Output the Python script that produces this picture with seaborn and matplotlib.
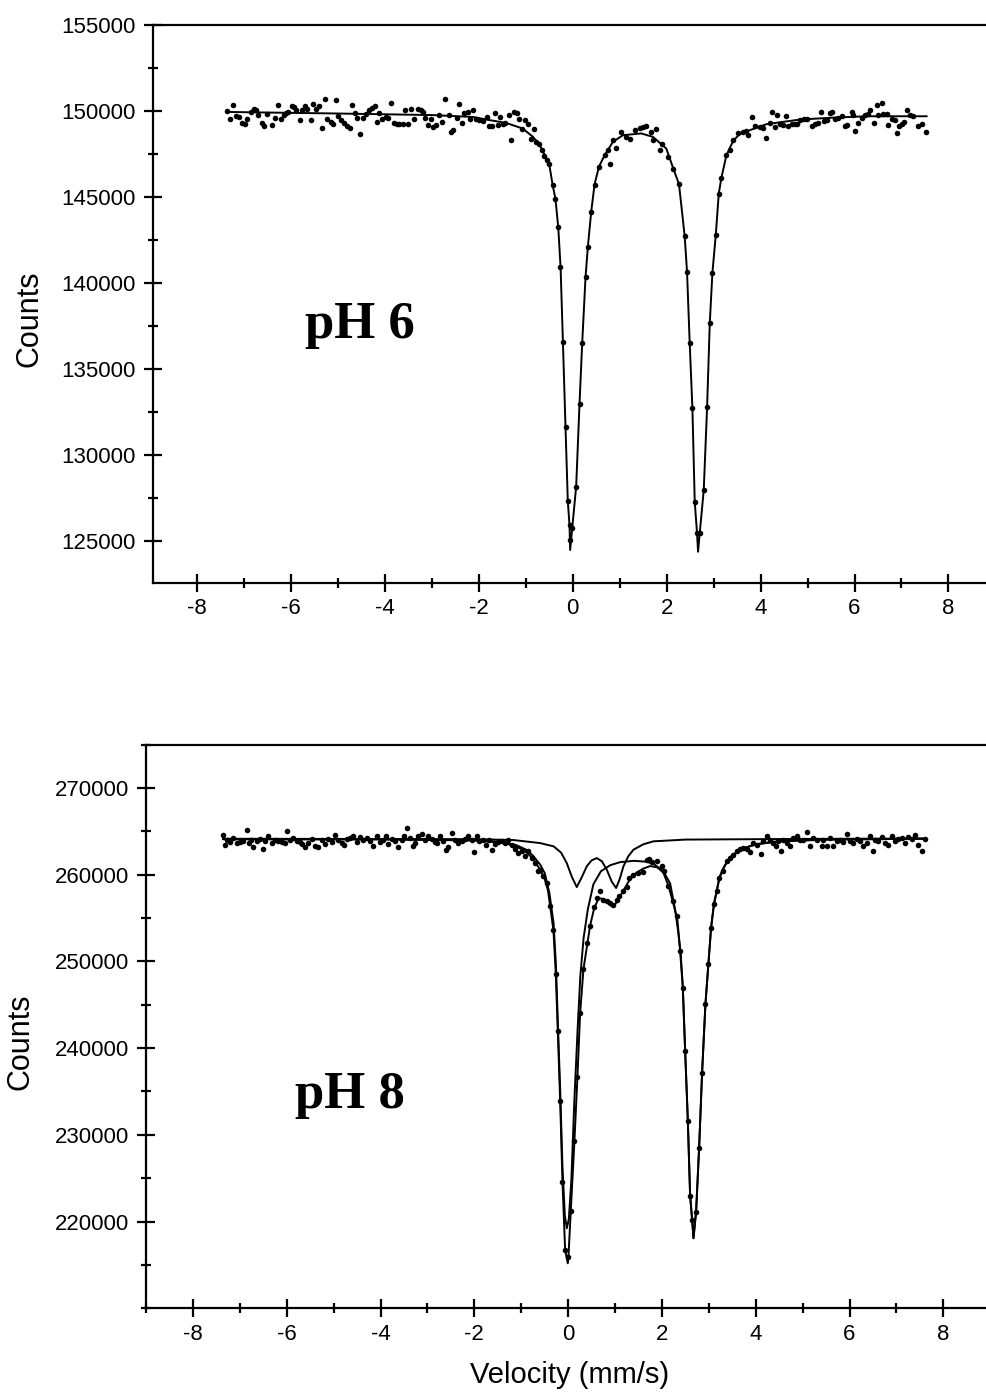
import matplotlib
matplotlib.use("Agg")
import matplotlib.pyplot as plt
from matplotlib.ticker import FixedLocator, MultipleLocator
import seaborn as sns

# ---- pH 6 : measured points (velocity mm/s, counts) ----
ph6_velocity = [
    -7.360, -7.303, -7.232, -7.182, -7.111, -7.040, -6.983, -6.933, -6.862, -6.791,
    -6.755, -6.698, -6.627, -6.577, -6.506, -6.414, -6.343, -6.286, -6.222, -6.151,
    -6.115, -6.058, -5.987, -5.937, -5.902, -5.816, -5.760, -5.703, -5.653, -5.582,
    -5.532, -5.475, -5.404, -5.347, -5.283, -5.226, -5.155, -5.098, -5.048, -4.992,
    -4.942, -4.871, -4.800, -4.750, -4.693, -4.636, -4.586, -4.529, -4.465, -4.409,
    -4.337, -4.266, -4.209, -4.167, -4.124, -4.053, -3.982, -3.925, -3.868, -3.804,
    -3.754, -3.697, -3.626, -3.569, -3.505, -3.448, -3.377, -3.306, -3.235, -3.199,
    -3.143, -3.086, -3.022, -2.972, -2.915, -2.844, -2.787, -2.716, -2.645, -2.595,
    -2.545, -2.474, -2.417, -2.360, -2.311, -2.240, -2.190, -2.119, -2.062, -1.991,
    -1.920, -1.834, -1.777, -1.720, -1.649, -1.600, -1.550, -1.493, -1.436, -1.365,
    -1.315, -1.244, -1.194, -1.137, -1.080, -1.009, -0.960, -0.888, -0.831, -0.782,
    -0.711, -0.661, -0.604, -0.554, -0.497,
    -0.426, -0.369, -0.312, -0.262, -0.212, -0.155, -0.106, -0.070, -0.049, -0.013,
    0.072, 0.143, 0.200, 0.271, 0.321, 0.392, 0.463, 0.556, 0.677, 0.748,
    0.783, 0.854, 0.911, 1.032, 1.139, 1.210, 1.317, 1.423, 1.494, 1.566,
    1.672, 1.708, 1.779, 1.850, 1.907, 2.028, 2.134, 2.262, 2.383, 2.433,
    2.490, 2.547, 2.597, 2.646, 2.703, 2.789, 2.860, 2.917, 2.973, 3.045,
    3.109, 3.166, 3.272, 3.343, 3.414, 3.521, 3.628, 3.699,
    3.734, 3.827, 3.876, 3.983, 4.054, 4.125, 4.196, 4.253, 4.303, 4.353,
    4.410, 4.481, 4.538, 4.587, 4.659, 4.730, 4.765, 4.836, 4.922, 4.979,
    5.085, 5.156, 5.227, 5.277, 5.348, 5.405, 5.476, 5.512, 5.583, 5.654,
    5.725, 5.796, 5.832, 5.938, 5.974, 6.010, 6.081, 6.152, 6.223, 6.294,
    6.330, 6.415, 6.472, 6.507, 6.579, 6.614, 6.685, 6.721, 6.792, 6.863,
    6.899, 6.955, 7.005, 7.055, 7.112, 7.183, 7.254, 7.361, 7.432, 7.524,
]
ph6_counts = [
    149982, 149556, 150370, 149692, 149653, 149304, 149227, 149556, 149944, 150138,
    150041, 149750, 149304, 149110, 149808, 149169, 149614, 150331, 149556, 149750,
    149886, 149944, 150273, 150234, 150041, 149498, 150041, 150273, 150138, 149459,
    150428, 150138, 150273, 149033, 150680, 149556, 149362, 149227, 150622, 149692,
    149498, 149304, 149110, 149033, 150370, 149886, 149614, 148684, 149614, 149847,
    150080, 150196, 150273, 149362, 149886, 149556, 149653, 149614, 150467, 149304,
    149265, 149227, 149265, 150080, 149227, 150138, 149556, 150138, 150041, 149944,
    149614, 149169, 149556, 149072, 149169, 149750, 149362, 150719, 149750, 148781,
    148878, 149614, 150389, 149304, 149886, 149944, 149556, 150080, 149556, 149498,
    149420, 149653, 149110, 149110, 149886, 149169, 149653, 149265, 149304, 149750,
    148335, 149944, 149886, 149556, 148975, 149459, 149227, 148393, 148975, 148199,
    148064, 147754, 147366, 147172, 146901,
    145681, 144906, 143258, 140933, 136572, 131591, 127328, 125913, 125041, 125719,
    128142, 132948, 136475, 140312, 142095, 144130, 145720, 146747, 147425, 147754,
    146940, 148336, 147871, 148781, 148491, 148394, 148917, 149033, 149072, 149111,
    148781, 148297, 148975, 147754, 148064, 147328, 146650, 145739, 142716, 140642,
    136475, 132735, 127269, 125429, 125429, 127948, 132754, 137638, 140584, 142774,
    145196, 146126, 147425, 147716, 148297, 148723, 148781, 148840,
    148587, 149653, 149110, 149072, 149033, 148451, 149304, 149944, 149072, 149750,
    149227, 149169, 149692, 149110, 149265, 149227, 149265, 149498, 149537, 149556,
    149110, 149227, 149304, 149944, 149420, 149459, 149886, 149944, 149556, 149614,
    149692, 149110, 149169, 149944, 149750, 148839, 149304, 149614, 149750, 149847,
    150041, 149304, 150331, 149750, 150467, 149847, 149808, 149169, 149556, 149459,
    148723, 149110, 149227, 149362, 150080, 149750, 149692, 149110, 149227, 148781,
]

# pH 6 fitted curve
ph6_fit_velocity = [
    -7.36, -5.0, -3.0, -2.13, -1.78, -1.42, -1.07, -0.85, -0.71, -0.6,
    -0.5, -0.43, -0.37, -0.31, -0.26, -0.21, -0.155, -0.106, -0.07, -0.056,
    -0.013, 0.072, 0.143, 0.2, 0.271, 0.321, 0.392, 0.463, 0.556, 0.677,
    0.854, 1.068, 1.459, 1.708, 1.992, 2.134, 2.262, 2.383, 2.433, 2.49,
    2.547, 2.597, 2.646, 2.668, 2.703, 2.789, 2.86, 2.917, 2.973, 3.045,
    3.109, 3.166, 3.272, 3.414, 3.55, 3.77, 4.125, 4.84, 5.55, 6.26, 7.54,
]
ph6_fit_counts = [
    149940, 149850, 149760, 149650, 149470, 149300, 148980, 148500, 148030, 147450,
    146880, 145700, 144900, 143250, 140900, 136550, 131600, 127300, 125900, 124460,
    125720, 128150, 132950, 136480, 140310, 142100, 144130, 145720, 146750, 147420,
    148200, 148590, 148690, 148490, 147810, 146700, 145740, 142720, 140640, 136480,
    132740, 127270, 125430, 124360, 125430, 127950, 132750, 137640, 140580, 142770,
    145200, 146130, 147420, 148250, 148650, 148880, 149230, 149500, 149610, 149690, 149690,
]

# ---- pH 8 : measured points ----
ph8_velocity = [
    -7.363, -7.313, -7.277, -7.206, -7.135, -7.050, -6.993, -6.922, -6.851, -6.815,
    -6.766, -6.709, -6.638, -6.567, -6.496, -6.460, -6.389, -6.318, -6.247, -6.176,
    -6.105, -6.034, -5.984, -5.927, -5.856, -5.785, -5.714, -5.678, -5.607, -5.536,
    -5.465, -5.394, -5.323, -5.252, -5.181, -5.110, -5.039, -4.968, -4.897, -4.826,
    -4.776, -4.719, -4.648, -4.577, -4.506, -4.435, -4.364, -4.293, -4.222, -4.150,
    -4.079, -4.008, -3.937, -3.880, -3.831, -3.760, -3.689, -3.617, -3.546, -3.496,
    -3.440, -3.369, -3.312, -3.262, -3.191, -3.120, -3.049, -2.978, -2.907, -2.836,
    -2.786, -2.729, -2.672, -2.601, -2.551, -2.480, -2.409, -2.338, -2.267, -2.196,
    -2.125, -2.054, -2.004, -1.947, -1.890, -1.819, -1.748, -1.677, -1.627, -1.556,
    -1.485, -1.414, -1.343, -1.272, -1.201, -1.130, -1.059, -0.988, -0.917, -0.846,
    -0.775, -0.703, -0.632,
    -0.598, -0.527, -0.455, -0.384, -0.313, -0.263,
    -0.220, -0.170, -0.121, -0.064, 0.007, 0.057, 0.135, 0.199, 0.256, 0.327,
    0.412, 0.468, 0.554, 0.611, 0.682, 0.753, 0.824, 0.895, 0.966, 1.037,
    1.094, 1.165, 1.250, 1.307, 1.392, 1.499, 1.606, 1.677, 1.734, 1.783,
    1.890, 1.997, 2.046, 2.139, 2.231, 2.330, 2.387, 2.458,
    2.495, 2.552, 2.601, 2.644, 2.729, 2.793, 2.857, 2.928, 2.992,
    3.048, 3.112, 3.169, 3.226, 3.311, 3.382, 3.453, 3.524,
    3.596, 3.667, 3.738, 3.809, 3.880, 3.951, 4.022, 4.108, 4.165, 4.236,
    4.307, 4.378, 4.435, 4.484, 4.534, 4.591, 4.662, 4.733, 4.804, 4.875,
    4.946, 5.017, 5.103, 5.160, 5.231, 5.302, 5.408, 5.444, 5.515, 5.586,
    5.643, 5.728, 5.799, 5.870, 5.941, 6.012, 6.083, 6.154, 6.226, 6.297,
    6.368, 6.439, 6.496, 6.545, 6.616, 6.688, 6.759, 6.830, 6.901, 6.972,
    7.043, 7.114, 7.185, 7.256, 7.327, 7.398, 7.469, 7.540, 7.611,
]
ph8_counts = [
    264615, 263461, 264038, 263730, 264230, 263653, 263730, 263845, 265115, 263653,
    264038, 263191, 263845, 264115, 262961, 263845, 264499, 263653, 264038, 263845,
    263730, 263653, 265000, 263961, 264230, 263845, 263730, 263576, 263191, 263653,
    264115, 263345, 263191, 263961, 263576, 264115, 263807, 264615, 264038, 263653,
    263461, 264115, 264230, 264422, 263807, 264345, 263961, 264230, 263845, 263345,
    264422, 263730, 263961, 264499, 263576, 264115, 263845, 263191, 264038, 264499,
    265384, 264230, 263268, 263653, 264422, 264730, 263961, 264499, 264115, 263807,
    263653, 264422, 263845, 262807, 263191, 264807, 264038, 263653, 263845, 264115,
    264499, 263961, 262576, 264422, 263845, 264038, 263461, 263961, 262807, 263576,
    263730, 263845, 263653, 263961, 263461, 262961, 262499, 262691, 262114, 262691,
    261922, 261345, 260383,
    260576, 259806, 259036, 256420, 253573, 248572,
    241919, 233955, 224607, 216721, 215952, 221261, 229339, 236726, 244035, 249113,
    252112, 254112, 256267, 257305, 258075, 257113, 256921, 256728, 256536, 257113,
    257497, 258075, 258575, 259614, 259998, 260191, 260268, 261700, 261800, 261500,
    261537, 260960, 260383, 258652, 256921, 255190, 251150, 246919,
    239611, 231609, 222953, 220183, 221145, 228454, 237187, 245074, 249728,
    253843, 256651, 258075, 259614, 260383, 261537, 261922, 262307,
    262691, 262961, 263076, 262961, 262576, 263653, 263461, 262422, 263845, 264422,
    263961, 263653, 263268, 263845, 262691, 264038, 263653, 263345, 264230, 264422,
    263961, 264038, 264884, 263345, 264230, 263961, 263345, 264038, 263268, 264230,
    263268, 263845, 264038, 263730, 264730, 263845, 263653, 264115, 263845, 263268,
    263653, 264499, 262691, 264038, 263845, 264345, 263653, 263461, 264499, 263845,
    264115, 264230, 263653, 264345, 264115, 264615, 263461, 262691, 264115,
]

# pH 8 total fit
ph8_fit_velocity = [
    -7.36, -4.0, -2.0, -1.4, -1.1, -0.9, -0.75, -0.6, -0.5, -0.43,
    -0.384, -0.313, -0.263, -0.22, -0.17, -0.121, -0.064, -0.007, 0.007, 0.057,
    0.135, 0.199, 0.256, 0.327, 0.412, 0.468, 0.554, 0.65, 0.75, 0.85,
    0.95, 1.05, 1.17, 1.3, 1.45, 1.6, 1.75, 1.9, 2.03, 2.14,
    2.23, 2.33, 2.387, 2.445, 2.495, 2.552, 2.601, 2.644, 2.673, 2.729,
    2.793, 2.857, 2.928, 2.992, 3.048, 3.112, 3.169, 3.226, 3.311, 3.382,
    3.5, 3.7, 4.0, 4.5, 5.5, 7.6,
]
ph8_fit_counts = [
    264100, 264080, 263950, 263700, 263250, 262650, 261850, 260600, 259500, 258200,
    256420, 253570, 248570, 241920, 233950, 224610, 216720, 215180, 215950, 221260,
    229340, 236730, 244030, 249110, 252110, 254110, 256100, 257300, 257200, 256700,
    256300, 256900, 258100, 259300, 260200, 260700, 261000, 260850, 260250, 258700,
    256950, 254800, 251300, 246920, 239610, 231610, 222950, 220180, 218070, 221150,
    228450, 237190, 245070, 249730, 253840, 256650, 258080, 259610, 260700, 261400,
    262200, 262950, 263500, 263850, 264050, 264150,
]

# pH 8 main doublet subspectrum
ph8_main_velocity = [
    -7.36, -4.0, -2.0, -1.4, -1.1, -0.9, -0.75, -0.6, -0.5, -0.4,
    -0.31, -0.26, -0.22, -0.17, -0.12, -0.07, -0.028, 0.015, 0.07, 0.13,
    0.2, 0.26, 0.33, 0.42, 0.539, 0.7, 0.9, 1.108, 1.4, 1.677,
    1.85, 2.032, 2.174, 2.281, 2.35, 2.4, 2.445, 2.495, 2.552, 2.601,
    2.644, 2.673, 2.729, 2.793, 2.857, 2.928, 2.992, 3.048, 3.112, 3.169,
    3.226, 3.311, 3.382, 3.5, 3.7, 4.0, 4.5, 5.5, 7.6,
]
ph8_main_counts = [
    264100, 264080, 263970, 263780, 263400, 262900, 262200, 261200, 260200, 257900,
    254400, 249600, 243100, 235300, 226200, 220700, 219220, 220300, 224900, 233600,
    241900, 248300, 252700, 256000, 258900, 260400, 261100, 261450, 261600, 261500,
    261150, 260400, 259000, 256000, 253300, 250900, 247200, 239800, 231800, 223100,
    220250, 218070, 221200, 228500, 237250, 245150, 249800, 253950, 256750, 258180,
    259700, 260780, 261460, 262250, 262980, 263520, 263860, 264060, 264150,
]

# pH 8 minor doublet subspectrum
ph8_minor_velocity = [
    -7.36, -2.0, -1.17, -0.6, -0.31, -0.15, -0.03, 0.08, 0.184, 0.29,
    0.397, 0.5, 0.611, 0.72, 0.824, 0.93, 1.023, 1.1, 1.179, 1.28,
    1.392, 1.6, 1.819, 2.5, 4.52, 7.6,
]
ph8_minor_counts = [
    264150, 264100, 264000, 263650, 263270, 262550, 261350, 259750, 258570, 259700,
    260960, 261650, 261920, 261550, 260580, 259200, 258460, 259500, 260960, 262100,
    262880, 263500, 263850, 264050, 264115, 264180,
]

# axis ticks
ph6_yticks = [125000, 130000, 135000, 140000, 145000, 150000, 155000]
ph8_yticks = [220000, 230000, 240000, 250000, 260000, 270000]
velocity_ticks = [-8, -6, -4, -2, 0, 2, 4, 6, 8]

sns.set_style("ticks")
plt.rcParams['font.family'] = ['Liberation Sans', 'DejaVu Sans']
plt.rcParams['axes.unicode_minus'] = False
plt.rcParams['axes.linewidth'] = 1.6
plt.rcParams['axes.edgecolor'] = 'black'
plt.rcParams['text.color'] = 'black'
plt.rcParams['axes.labelcolor'] = 'black'
plt.rcParams['xtick.color'] = 'black'
plt.rcParams['ytick.color'] = 'black'

fig = plt.figure(figsize=(9.86, 13.95), dpi=100)
ax_top = fig.add_axes([0.1547, 0.5823, 0.8453, 0.3998])
ax_bot = fig.add_axes([0.1481, 0.0622, 0.8519, 0.4040])

# top panel: pH 6
sns.lineplot(x=ph6_fit_velocity, y=ph6_fit_counts, ax=ax_top, color='black',
             lw=1.4, estimator=None, sort=False)
sns.scatterplot(x=ph6_velocity, y=ph6_counts, ax=ax_top, color='black',
                s=16, linewidth=0, zorder=3)

# bottom panel: pH 8, total fit and the two subspectra
for vel, cnt in [(ph8_minor_velocity, ph8_minor_counts),
                 (ph8_main_velocity, ph8_main_counts),
                 (ph8_fit_velocity, ph8_fit_counts)]:
    sns.lineplot(x=vel, y=cnt, ax=ax_bot, color='black', lw=1.4,
                 estimator=None, sort=False)
sns.scatterplot(x=ph8_velocity, y=ph8_counts, ax=ax_bot, color='black',
                s=16, linewidth=0, zorder=3)

ax_top.set_xlim(-8.95, 8.80)
ax_top.set_ylim(122560, 155000)
ax_bot.set_xlim(-9.0, 8.91)
ax_bot.set_ylim(210000, 275000)

for ax, yt, ystep in [(ax_top, ph6_yticks, 2500), (ax_bot, ph8_yticks, 5000)]:
    ax.spines['right'].set_visible(False)
    ax.yaxis.set_major_locator(FixedLocator(yt))
    ax.set_yticklabels([str(t) for t in yt])
    ax.yaxis.set_minor_locator(MultipleLocator(ystep))
    ax.xaxis.set_major_locator(FixedLocator(velocity_ticks))
    ax.set_xticklabels([str(t) for t in velocity_ticks])
    ax.xaxis.set_minor_locator(MultipleLocator(1))
    ax.tick_params(which='major', direction='inout', length=13, width=1.6,
                   labelsize=16, color='black', labelcolor='black')
    ax.tick_params(which='minor', direction='inout', length=7, width=1.6,
                   color='black')
    ax.tick_params(axis='y', which='major', pad=5.5)
    ax.tick_params(axis='x', which='major', pad=4.5)
    ax.tick_params(right=False, top=False, which='both')
    ax.set_xlabel('')
    ax.set_ylabel('Counts', fontsize=22, color='black')

ax_top.yaxis.set_label_coords(-0.130, 0.473)
ax_bot.yaxis.set_label_coords(-0.131, 0.4725)

ax_top.text(-5.70, 136770, 'pH 6', family=['Liberation Serif', 'DejaVu Serif'],
            fontweight='bold', fontsize=38, ha='left', va='baseline', color='black')
ax_bot.text(-5.82, 233080, 'pH 8', family=['Liberation Serif', 'DejaVu Serif'],
            fontweight='bold', fontsize=38, ha='left', va='baseline', color='black')

fig.text(570 / 986, 1 - 1383 / 1395, 'Velocity (mm/s)', fontsize=21,
         ha='center', va='baseline', color='black')

fig.savefig('out.png', dpi=100, facecolor='white')
